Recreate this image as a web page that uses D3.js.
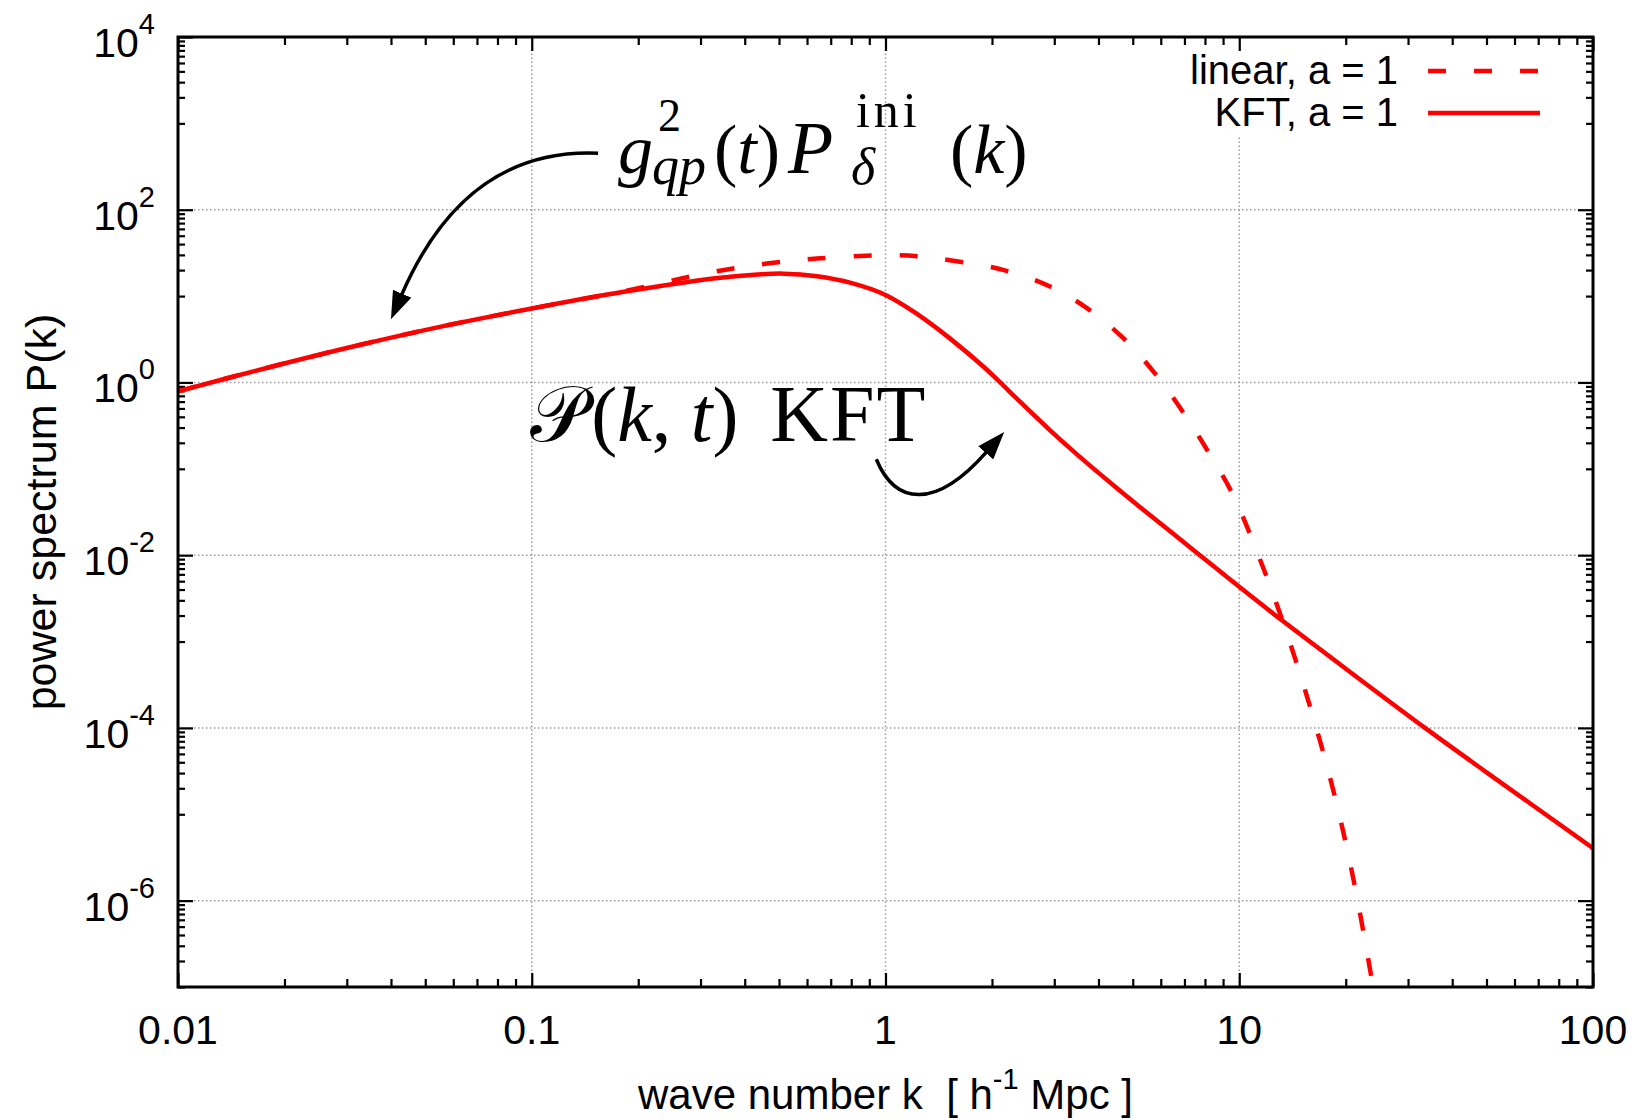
<!DOCTYPE html>
<html>
<head>
<meta charset="utf-8">
<script src="https://cdn.jsdelivr.net/npm/d3@7"></script>
<style>
body { margin: 0; background: #fff; }
text { font-family: "Liberation Sans", Arial, sans-serif; fill: #000; }
.math { font-family: "Liberation Serif", "DejaVu Serif", serif; }
</style>
</head>
<body>
<div id="chart"></div>
<script>
const width = 1643;
const height = 1120;
const margin = { top: 37, right: 50, bottom: 133, left: 178 };

// linear power spectrum, a = 1
const kLinear = [0.01, 0.0179, 0.0319, 0.0571, 0.1, 0.182, 0.326, 0.462, 0.64, 1.0, 1.23, 1.52, 2.16, 2.93, 3.72, 4.71, 5.86, 6.97, 8.29, 9.6, 11.2, 13.2, 15.6, 18.5, 21.1, 23.8];
const pLinear = [0.79, 1.48, 2.66, 4.55, 7.18, 11.4, 19.1, 23.8, 27.2, 29.7, 29.0, 26.0, 20.0, 12.8, 7.2, 3.23, 1.18, 0.44, 0.143, 0.05, 0.0112, 0.00182, 2.2e-4, 1.8e-5, 1.65e-6, 1.1e-7];

// KFT power spectrum, a = 1
const kKFT = [0.01, 0.0179, 0.0319, 0.0571, 0.1, 0.182, 0.326, 0.435, 0.515, 0.64, 0.794, 1.0, 1.23, 1.52, 1.89, 2.11, 2.36, 2.93, 3.63, 4.52, 5.61, 6.97, 8.66, 10, 13.2, 20, 33.5, 50, 100];
const pKFT = [0.79, 1.48, 2.66, 4.55, 7.18, 11.2, 16.0, 17.8, 18.2, 17.0, 14.3, 10.3, 6.18, 3.24, 1.53, 1.0, 0.639, 0.275, 0.126, 0.0593, 0.0288, 0.0141, 0.0069, 0.0043, 0.00176, 4.85e-4, 1.0e-4, 3.06e-5, 4.05e-6];

const xTicks = [0.01, 0.1, 1, 10, 100];
const xTickLabels = ["0.01", "0.1", "1", "10", "100"];
const yExponents = [4, 2, 0, -2, -4, -6];
const legendLabels = ["linear, a = 1", "KFT, a = 1"];

const red = "#ff0000";

const svg = d3.select("#chart")
    .append("svg")
    .attr("width", width)
    .attr("height", height);

const x = d3.scaleLog()
    .domain([0.01, 100])
    .range([margin.left, width - margin.right]);

const y = d3.scaleLog()
    .domain([1e-7, 1e4])
    .range([height - margin.bottom, margin.top]);

const x0 = margin.left, x1 = width - margin.right;
const y0 = height - margin.bottom, y1 = margin.top;

// minor ticks: 2..9 per decade on x, 1..9 x 10^(n-1) under every labelled decade on y
const xMinor = [];
[-2, -1, 0, 1].forEach(d => {
    for (let j = 2; j <= 9; j++) xMinor.push(j * Math.pow(10, d));
});
const yMinor = [];
yExponents.forEach(n => {
    for (let j = 1; j <= 9; j++) {
        const v = j * Math.pow(10, n - 1);
        if (v >= 1e-7 && v < 1e4) yMinor.push(v);
    }
});
const yMajor = yExponents.map(n => Math.pow(10, n));

// grid
const grid = svg.append("g")
    .attr("stroke", "#9a9a9a")
    .attr("stroke-width", 1.5)
    .attr("stroke-dasharray", "1.5,2.5");

grid.selectAll(".gx")
    .data(xTicks.slice(1, -1))
    .enter().append("line")
    .attr("x1", d => x(d)).attr("x2", d => x(d))
    .attr("y1", y0).attr("y2", y1);

grid.selectAll(".gy")
    .data(yMajor.slice(1))
    .enter().append("line")
    .attr("y1", d => y(d)).attr("y2", d => y(d))
    .attr("x1", x0).attr("x2", x1);

// key sits on an opaque patch
svg.append("rect")
    .attr("x", 1175).attr("y", y1 + 3)
    .attr("width", 390).attr("height", 97)
    .attr("fill", "#fff");

// ticks on all four sides, pointing inward
function ticks(axis, tr, values, size) {
    const g = svg.append("g")
        .attr("transform", tr)
        .call(axis.tickValues(values).tickSize(size).tickSizeOuter(0).tickFormat(""));
    g.select(".domain").remove();
    g.selectAll("line").attr("stroke", "#000").attr("stroke-width", 2.2);
}
ticks(d3.axisBottom(x), `translate(0,${y0})`, xTicks, -14);
ticks(d3.axisBottom(x), `translate(0,${y0})`, xMinor, -8);
ticks(d3.axisTop(x), `translate(0,${y1})`, xTicks, -14);
ticks(d3.axisTop(x), `translate(0,${y1})`, xMinor, -8);
ticks(d3.axisLeft(y), `translate(${x0},0)`, yMajor, -15);
ticks(d3.axisLeft(y), `translate(${x0},0)`, yMinor, -7);
ticks(d3.axisRight(y), `translate(${x1},0)`, yMajor, -15);
ticks(d3.axisRight(y), `translate(${x1},0)`, yMinor, -7);

// curves
svg.append("clipPath").attr("id", "plotclip")
    .append("rect")
    .attr("x", x0).attr("y", y1)
    .attr("width", x1 - x0).attr("height", y0 - y1);

const line = d3.line()
    .x(d => x(d[0]))
    .y(d => y(d[1]))
    .curve(d3.curveCatmullRom.alpha(0.5));

const curves = svg.append("g").attr("clip-path", "url(#plotclip)");

curves.append("path")
    .datum(d3.zip(kLinear, pLinear))
    .attr("d", line)
    .attr("fill", "none")
    .attr("stroke", red)
    .attr("stroke-width", 4.5)
    .attr("stroke-dasharray", "18,28");

curves.append("path")
    .datum(d3.zip(kKFT, pKFT))
    .attr("d", line)
    .attr("fill", "none")
    .attr("stroke", red)
    .attr("stroke-width", 4.5);

// frame
svg.append("rect")
    .attr("x", x0).attr("y", y1)
    .attr("width", x1 - x0).attr("height", y0 - y1)
    .attr("fill", "none")
    .attr("stroke", "#000")
    .attr("stroke-width", 3);

// tick labels
svg.selectAll(".xl")
    .data(xTicks)
    .enter().append("text")
    .attr("x", d => x(d))
    .attr("y", y0 + 57)
    .attr("text-anchor", "middle")
    .attr("font-size", 41)
    .text((d, i) => xTickLabels[i]);

yExponents.forEach(n => {
    const t = svg.append("text")
        .attr("x", x0 - 23)
        .attr("y", y(Math.pow(10, n)) + 20)
        .attr("text-anchor", "end")
        .attr("font-size", 41);
    t.append("tspan").text("10");
    t.append("tspan").attr("font-size", 29).attr("dy", -23).text(n);
});

// axis titles
const xl = svg.append("text")
    .attr("x", (x0 + x1) / 2)
    .attr("y", 1109)
    .attr("text-anchor", "middle")
    .attr("font-size", 42)
    .style("white-space", "pre");
xl.append("tspan").text("wave number k  [ h");
xl.append("tspan").attr("font-size", 29).attr("dy", -20).text("-1");
xl.append("tspan").attr("dy", 20).text(" Mpc ]");

svg.append("text")
    .attr("transform", `translate(56,${(y0 + y1) / 2}) rotate(-90)`)
    .attr("text-anchor", "middle")
    .attr("font-size", 43)
    .text("power spectrum P(k)");

// legend
const legend = svg.append("g");
legendLabels.forEach((label, i) => {
    const ly = [71, 113][i];
    legend.append("text")
        .attr("x", 1398)
        .attr("y", ly + 13)
        .attr("text-anchor", "end")
        .attr("font-size", 40)
        .text(label);
    legend.append("line")
        .attr("x1", 1428).attr("x2", 1540)
        .attr("y1", ly).attr("y2", ly)
        .attr("stroke", red)
        .attr("stroke-width", 4.5)
        .attr("stroke-dasharray", i === 0 ? "18,28" : null);
});

// annotations, anchored in data coordinates
svg.append("defs").append("marker")
    .attr("id", "head")
    .attr("viewBox", "0 0 28 20")
    .attr("markerUnits", "userSpaceOnUse")
    .attr("markerWidth", 28).attr("markerHeight", 20)
    .attr("refX", 1).attr("refY", 10)
    .attr("orient", "auto")
    .append("path")
    .attr("d", "M0,0 L28,10 L0,20 Z")
    .attr("fill", "#000");

function bez(pts) {
    const p = pts.map(d => [x(d[0]), y(d[1])]);
    return `M${p[0]} C${p[1]} ${p[2]} ${p[3]}`;
}

svg.append("path")
    .attr("d", bez([[0.154, 450], [0.0715, 515], [0.0508, 51], [0.0429, 10.4]]))
    .attr("fill", "none").attr("stroke", "#000").attr("stroke-width", 3.5)
    .attr("marker-end", "url(#head)");

svg.append("path")
    .attr("d", bez([[0.942, 0.129], [1.066, 0.038], [1.383, 0.0333], [1.928, 0.156]]))
    .attr("fill", "none").attr("stroke", "#000").attr("stroke-width", 3.5)
    .attr("marker-end", "url(#head)");

function piece(px, py, size, parts) {
    const t = svg.append("text").attr("class", "math")
        .attr("x", px).attr("y", py).attr("font-size", size);
    parts.forEach(p => t.append("tspan")
        .attr("font-style", p[1] ? "italic" : "normal")
        .text(p[0]));
    return t;
}

// g_qp^2(t) P_delta^ini(k)
const f1x = x(0.173), f1y = y(265);
piece(f1x + 2, f1y, 70, [["g", 1]]);
piece(f1x + 42, f1y - 42, 46, [["2", 0]]);
piece(f1x + 36, f1y + 11, 54, [["qp", 1]]);
piece(f1x + 98, f1y, 70, [["(", 0], ["t", 1], [")", 0]]);
piece(f1x + 172, f1y, 74, [["P", 1]]);
piece(f1x + 240, f1y - 46, 50, [["ini", 0]]).attr("letter-spacing", 4);
piece(f1x + 235, f1y + 11, 52, [["δ", 1]]);
piece(f1x + 334, f1y, 70, [["(", 0], ["k", 1], [")", 0]]);

// P(k,t) KFT
const f2x = x(0.099), f2y = y(0.209);
piece(f2x, f2y, 78, [["𝒫", 0]]);
piece(f2x + 61, f2y, 78, [["(", 0], ["k", 1], [", ", 0], ["t", 1], [")", 0]])
    .style("white-space", "pre");
piece(f2x + 240, f2y, 80, [["KFT", 0]])
    .attr("letter-spacing", 2);
</script>
</body>
</html>
